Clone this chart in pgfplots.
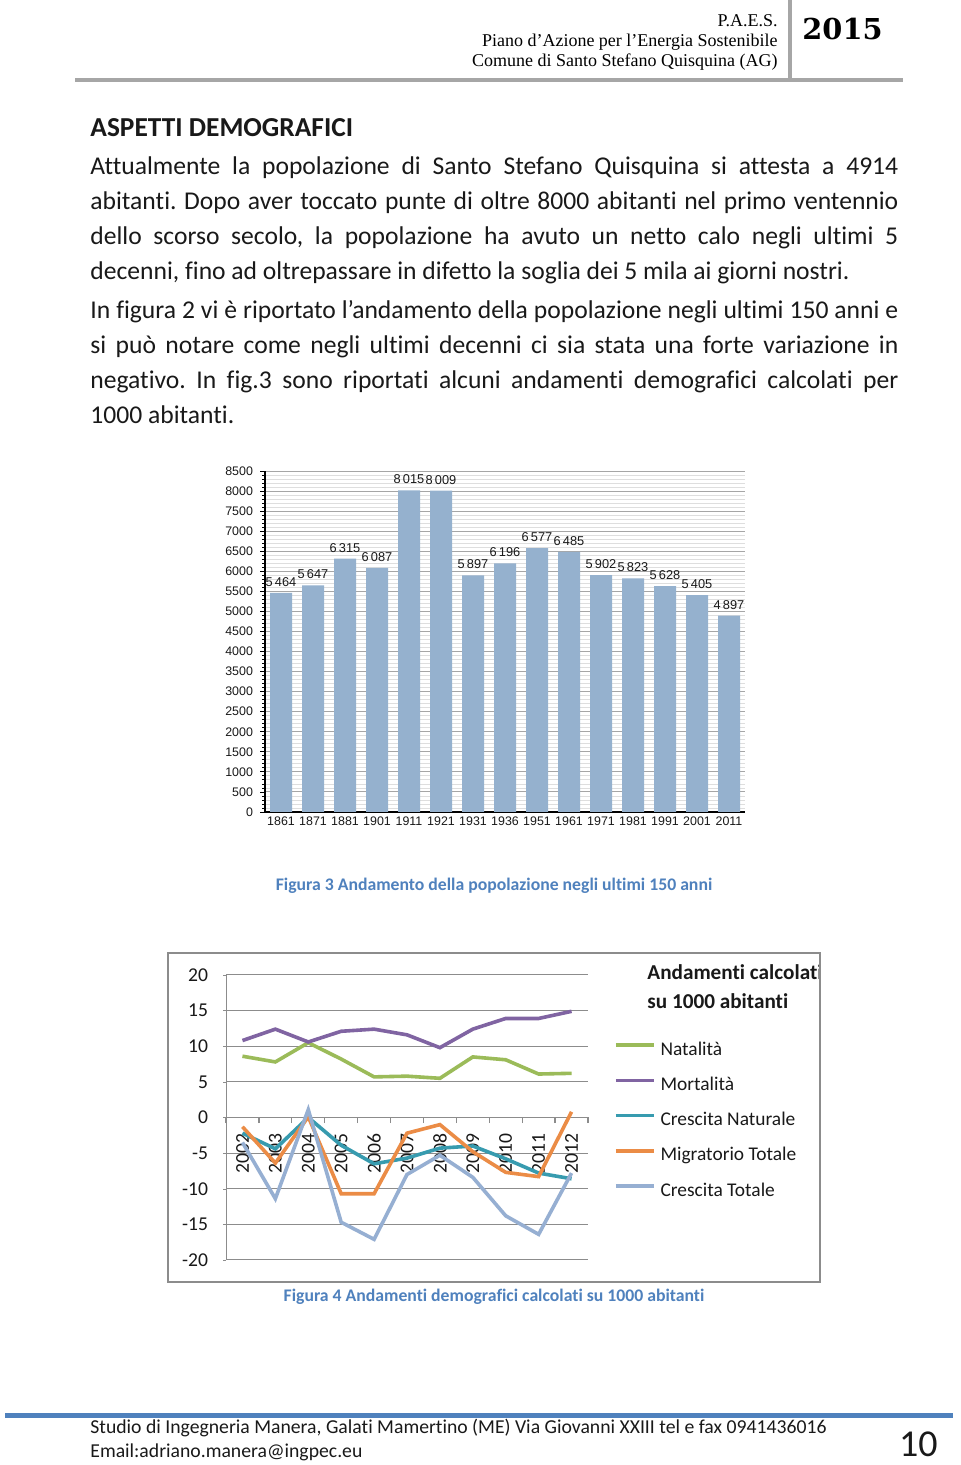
\documentclass[border=0pt]{standalone}
\usepackage{fontspec}
\setmainfont{Carlito}[Ligatures={NoCommon}]
\newfontfamily\arialf{Liberation Sans}
\newfontfamily\timesf{Liberation Serif}
\newfontfamily\djserif{DejaVu Serif}
\usepackage{pgfplots}
\pgfplotsset{compat=1.18}
\definecolor{barblue}{RGB}{149,177,206}
\definecolor{capblue}{RGB}{79,129,189}
\definecolor{natg}{RGB}{155,187,89}
\definecolor{mortp}{RGB}{128,100,162}
\definecolor{cnt}{RGB}{55,155,175}
\definecolor{migo}{RGB}{235,140,70}
\definecolor{ctb}{RGB}{150,175,210}
\definecolor{txt}{RGB}{25,25,25}
\newcommand{\bodyfont}{\fontsize{12.8}{15}\selectfont}
\frenchspacing
\begin{document}
\frenchspacing
\begin{tikzpicture}[x=0.5pt,y=0.5pt]
\useasboundingbox (0,0) rectangle (960,1465);
\fill[white] (0,0) rectangle (960,1465);
\coordinate (barorig) at (265,653);
\coordinate (lineorig) at (226,205);
% ---------------- header
\draw[gray!70, line width=2pt] (790,1465) -- (790,1383);
\draw[gray!70, line width=1.75pt] (75,1385) -- (903,1385);
\node[anchor=base east, inner sep=0pt, font=\timesf\fontsize{9}{10}\selectfont] at (778,1438) {P.A.E.S.};
\node[anchor=base east, inner sep=0pt, font=\timesf\fontsize{9}{10}\selectfont] at (778,1418.5) {Piano d’Azione per l’Energia Sostenibile};
\node[anchor=base east, inner sep=0pt, font=\timesf\fontsize{9}{10}\selectfont] at (778,1398.3) {Comune di Santo Stefano Quisquina (AG)};
\node[anchor=base west, inner sep=0pt, font=\djserif\bfseries\fontsize{14.4}{16}\selectfont] at (802,1425.7) {2015};
% ---------------- body text
\node[anchor=base west, inner sep=0pt, text=txt, font=\bfseries\fontsize{13.7}{16}\selectfont] at (90,1328.3) {ASPETTI DEMOGRAFICI};
\begin{scope}[every node/.style={anchor=base west, inner sep=0pt, text=txt, font=\bodyfont}]
\node at (90,1290) {\hbox to 404pt{Attualmente la popolazione di Santo Stefano Quisquina si attesta a 4914}};
\node at (90,1255) {\hbox to 404pt{abitanti. Dopo aver toccato punte di oltre 8000 abitanti nel primo ventennio}};
\node at (90,1220) {\hbox to 404pt{dello scorso secolo, la popolazione ha avuto un netto calo negli ultimi 5}};
\node at (90,1185) {decenni, fino ad oltrepassare in difetto la soglia dei 5 mila ai giorni nostri.};
\node at (90,1146) {\hbox to 404pt{In figura 2 vi è riportato l’andamento della popolazione negli ultimi 150 anni e}};
\node at (90,1111) {\hbox to 404pt{si può notare come negli ultimi decenni ci sia stata una forte variazione in}};
\node at (90,1076) {\hbox to 404pt{negativo. In fig.3 sono riportati alcuni andamenti demografici calcolati per}};
\node at (90,1041) {1000 abitanti.};
\end{scope}
% ---------------- bar chart
\begin{axis}[
  at={(barorig)}, anchor=south west,
  width=240pt, height=170.5pt, scale only axis,
  ybar, bar width=11pt,
  xmin=-0.5, xmax=14.5, ymin=0, ymax=8500,
  xtick={0,...,14},
  xticklabels={1861,1871,1881,1901,1911,1921,1931,1936,1951,1961,1971,1981,1991,2001,2011},
  ytick={0,500,...,8500},
  minor y tick num=4,
  ymajorgrids, yminorgrids,
  major grid style={black!35, line width=0.5pt},
  minor grid style={black!13, line width=0.4pt},
  axis x line*=bottom, axis y line*=left,
  axis line style={black, line width=0.6pt, -},
  tick align=outside,
  major x tick style={draw=none},
  y tick style={black, line width=0.4pt},
  major tick length=2.5pt, minor tick length=1.5pt,
  tick label style={font=\arialf\fontsize{6.2}{7}\selectfont, text=txt},
  xticklabel style={yshift=3.5pt},
  /pgf/number format/assume math mode=true,
  /pgf/number format/1000 sep={},
  nodes near coords={\pgfmathprintnumber[1000 sep={\,}]{\pgfplotspointmeta}},
  every node near coord/.append style={font=\arialf\fontsize{6.4}{7}\selectfont, text=txt, inner sep=0pt, yshift=3pt},
]
\addplot[fill=barblue, draw=none] coordinates {
(0,5464) (1,5647) (2,6315) (3,6087) (4,8015) (5,8009) (6,5897) (7,6196)
(8,6577) (9,6485) (10,5902) (11,5823) (12,5628) (13,5405) (14,4897)};
\end{axis}
\node[anchor=base, inner sep=0pt, text=capblue, font=\bfseries\fontsize{8.85}{10}\selectfont] at (494,574) {Figura 3 Andamento della popolazione negli ultimi 150 anni};
% ---------------- line chart
\begin{axis}[
  at={(lineorig)}, anchor=south west,
  width=181pt, height=142.5pt, scale only axis,
  xmin=2001.5, xmax=2012.5, ymin=-20, ymax=20,
  ytick={-20,-15,...,20},
  xtick={2002,...,2012},
  minor xtick={2001.5,2002.5,...,2012.5},
  axis x line=middle, axis y line=left,
  hide obscured x ticks=false, hide obscured y ticks=false,
  axis line style={black!45, line width=0.5pt, -},
  ymajorgrids, major grid style={black!45, line width=0.5pt},
  tick align=outside,
  major x tick style={draw=none},
  minor x tick style={black!45, line width=0.6pt},
  y tick style={black!45},
  major tick length=1.5pt, minor tick length=2.8pt,
  tick label style={font=\fontsize{9.8}{11}\selectfont, text=txt},
  yticklabel style={xshift=-4pt},
  xticklabel style={rotate=90, anchor=east},
  xticklabel shift=3pt,
  /pgf/number format/assume math mode=true,
  /pgf/number format/1000 sep={},
  legend style={at={(1.0717,0.764)}, anchor=north west, draw=none, fill=none,
    inner sep=0pt, outer sep=0pt, font=\fontsize{9.7}{11}\selectfont,
    row sep=9.1pt, column sep=2.5pt,
    nodes={inner sep=0pt, text height=6.5pt, text depth=2pt, text=txt}},
  legend cell align=left,
  legend image code/.code={\draw[#1, line width=1.8pt] (0pt,2.8pt) -- (19pt,2.8pt);},
  every axis plot/.append style={line width=1.8pt},
]
\addplot[natg] coordinates {(2002,8.6) (2003,7.8) (2004,10.5) (2005,8.2) (2006,5.7) (2007,5.8) (2008,5.5) (2009,8.5) (2010,8.1) (2011,6.1) (2012,6.2)};
\addlegendentry{Natalità}
\addplot[mortp] coordinates {(2002,10.8) (2003,12.4) (2004,10.6) (2005,12.1) (2006,12.4) (2007,11.6) (2008,9.8) (2009,12.4) (2010,13.9) (2011,13.9) (2012,14.9)};
\addlegendentry{Mortalità}
\addplot[cnt] coordinates {(2002,-2.2) (2003,-4.4) (2004,0) (2005,-3.9) (2006,-6.5) (2007,-5.7) (2008,-4.3) (2009,-4.0) (2010,-5.8) (2011,-7.8) (2012,-8.6)};
\addlegendentry{Crescita Naturale}
\addplot[migo] coordinates {(2002,-1.3) (2003,-6.4) (2004,0.1) (2005,-10.7) (2006,-10.7) (2007,-2.2) (2008,-1.0) (2009,-4.8) (2010,-7.7) (2011,-8.3) (2012,0.8)};
\addlegendentry{Migratorio Totale}
\addplot[ctb] coordinates {(2002,-3.5) (2003,-11.4) (2004,1.1) (2005,-14.7) (2006,-17.1) (2007,-8.0) (2008,-5.3) (2009,-8.4) (2010,-13.8) (2011,-16.4) (2012,-7.8)};
\addlegendentry{Crescita Totale}
\end{axis}
\begin{scope}
\clip (168,183) rectangle (820,512);
\node[anchor=base west, inner sep=0pt, text=txt, font=\bfseries\fontsize{10.6}{12}\selectfont] at (647,485) {Andamenti calcolati};
\node[anchor=base west, inner sep=0pt, text=txt, font=\bfseries\fontsize{10.6}{12}\selectfont] at (647,456.7) {su 1000 abitanti};
\end{scope}
\draw[black!45, line width=1pt] (168,183) rectangle (820,512);
\node[anchor=base, inner sep=0pt, text=capblue, font=\bfseries\fontsize{8.85}{10}\selectfont] at (494,163) {Figura 4 Andamenti demografici calcolati su 1000 abitanti};
% ---------------- footer
\draw[capblue, line width=2.5pt] (5,49.5) -- (953,49.5);
\node[anchor=base west, inner sep=0pt, text=txt, font=\fontsize{9.85}{11}\selectfont] at (90,32) {Studio di Ingegneria Manera, Galati Mamertino (ME) Via Giovanni XXIII tel e fax 0941436016};
\node[anchor=base west, inner sep=0pt, text=txt, font=\fontsize{9.85}{11}\selectfont] at (90,8) {Email:adriano.manera@ingpec.eu};
\node[anchor=base east, inner sep=0pt, text=txt, font=\fontsize{19}{21}\selectfont] at (938,9) {10};
\end{tikzpicture}
\end{document}
